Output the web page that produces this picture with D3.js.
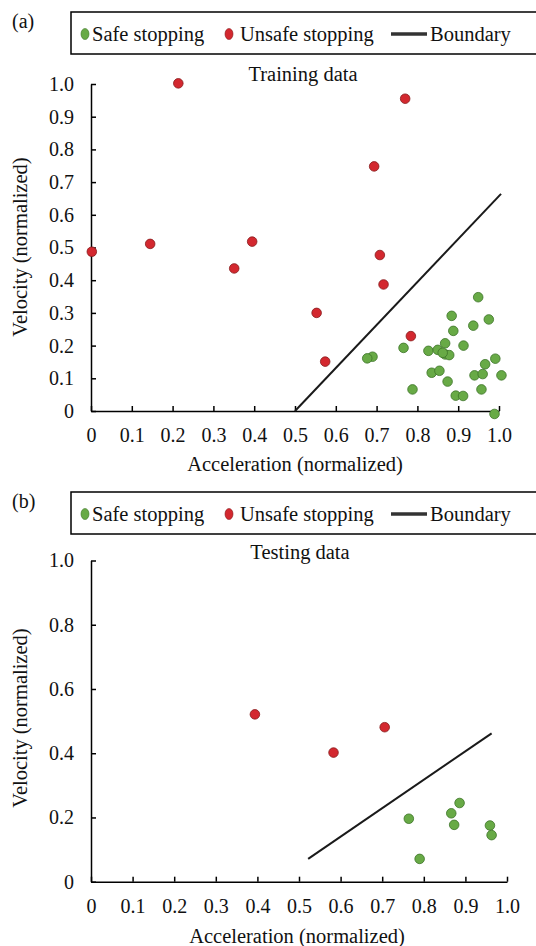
<!DOCTYPE html>
<html lang="en">
<head>
<meta charset="utf-8">
<script src="https://d3js.org/d3.v7.min.js"></script>
<style type="text/css">
body {
	margin: 0;
	background-color: #ffffff;
}
svg text {
	font-family: "Liberation Serif", Tinos, "Times New Roman", Times, "DejaVu Serif", serif !important;
	fill: #111;
}
.axis path, .axis line {
	stroke: #000;
	stroke-width: 1.5;
}
.axis text {
	font-size: 20px;
}
</style>
</head>
<body>
<script type="text/javascript">

// Training data (a)
var trainSafeX = [0.949, 0.884, 0.975, 0.888, 0.937, 0.868, 0.913, 0.766, 0.827, 0.850,
                  0.868, 0.878, 0.862, 0.690, 0.677, 0.991, 0.966, 0.835, 0.854, 0.940,
                  0.960, 1.006, 0.874, 0.788, 0.957, 0.894, 0.912, 0.989];
var trainSafeY = [0.348, 0.291, 0.280, 0.245, 0.261, 0.207, 0.200, 0.193, 0.184, 0.187,
                  0.173, 0.171, 0.178, 0.166, 0.161, 0.160, 0.143, 0.117, 0.123, 0.109,
                  0.113, 0.109, 0.090, 0.066, 0.066, 0.047, 0.046, -0.009];
var trainUnsafeX = [0.002, 0.145, 0.214, 0.351, 0.395, 0.553, 0.574, 0.694, 0.708, 0.717, 0.770, 0.784];
var trainUnsafeY = [0.487, 0.511, 1.002, 0.436, 0.518, 0.300, 0.151, 0.748, 0.477, 0.387, 0.955, 0.229];
var trainBoundaryX = [0.50, 1.005];
var trainBoundaryY = [0.0, 0.664];

// Testing data (b)
var testSafeX = [0.886, 0.866, 0.873, 0.764, 0.790, 0.959, 0.963];
var testSafeY = [0.245, 0.213, 0.177, 0.196, 0.071, 0.175, 0.145];
var testUnsafeX = [0.394, 0.583, 0.706];
var testUnsafeY = [0.521, 0.402, 0.481];
var testBoundaryX = [0.522, 0.963];
var testBoundaryY = [0.071, 0.462];

var xTicks = [0, 0.1, 0.2, 0.3, 0.4, 0.5, 0.6, 0.7, 0.8, 0.9, 1.0];
var yTicksTrain = [0, 0.1, 0.2, 0.3, 0.4, 0.5, 0.6, 0.7, 0.8, 0.9, 1.0];
var yTicksTest = [0, 0.2, 0.4, 0.6, 0.8, 1.0];

var legendLabels = ["Safe stopping", "Unsafe stopping", "Boundary"];

var safeFill = "#68aa46", safeStroke = "#3c7428";
var unsafeFill = "#d3282f", unsafeStroke = "#861a1c";

var serif = '"Liberation Serif", Tinos, "Times New Roman", Times, "DejaVu Serif", serif';

var width = 536, height = 946;

var svg = d3.select("body")
  .append("svg")
  .attr("width", width)
  .attr("height", height)
  .attr("font-family", serif);

function fmt(d) { return d === 0 ? "0" : d3.format(".1f")(d); }

function zip(xs, ys) {
  return xs.map(function(x, i) { return [x, ys[i]]; });
}

function drawPanel(p) {
  var g = svg.append("g");

  var x = d3.scaleLinear().domain([0, 1]).range([p.left, p.right]);
  var y = d3.scaleLinear().domain([0, 1]).range([p.bottom, p.top]);

  // panel letter
  g.append("text")
    .attr("x", 12).attr("y", p.legendTop + 16)
    .style("font-size", "20px")
    .text(p.letter);

  // legend box
  var lg = g.append("g").attr("transform", "translate(71," + p.legendTop + ")");
  lg.append("rect")
    .attr("width", 480).attr("height", 42)
    .style("fill", "none").style("stroke", "#000").style("stroke-width", 1.5);
  lg.append("ellipse").attr("cx", 14).attr("cy", 22).attr("rx", 4).attr("ry", 5.5)
    .style("fill", safeFill).style("stroke", safeStroke).style("stroke-width", 0.6);
  lg.append("text").attr("x", 21).attr("y", 29).style("font-size", "20.5px").text(legendLabels[0]);
  lg.append("ellipse").attr("cx", 158).attr("cy", 22).attr("rx", 4).attr("ry", 5.5)
    .style("fill", unsafeFill).style("stroke", unsafeStroke).style("stroke-width", 0.6);
  lg.append("text").attr("x", 169).attr("y", 29).style("font-size", "20.5px").text(legendLabels[1]);
  lg.append("line").attr("x1", 320).attr("x2", 356).attr("y1", 22).attr("y2", 22)
    .style("stroke", "#333").style("stroke-width", 3.5);
  lg.append("text").attr("x", 359).attr("y", 29).style("font-size", "20.5px").text(legendLabels[2]);

  // title
  g.append("text")
    .attr("x", p.titleX).attr("y", p.titleY)
    .attr("text-anchor", "middle")
    .style("font-size", "20.5px")
    .text(p.title);

  // axes
  var xa = g.append("g")
    .attr("class", "axis")
    .attr("transform", "translate(0," + p.bottom + ")")
    .call(d3.axisBottom(x).tickValues(xTicks).tickFormat(fmt)
      .tickSizeInner(-5).tickSizeOuter(0).tickPadding(17));

  var ya = g.append("g")
    .attr("class", "axis")
    .attr("transform", "translate(" + p.left + ",0)")
    .call(d3.axisLeft(y).tickValues(p.yTicks).tickFormat(fmt)
      .tickSizeInner(-5).tickSizeOuter(0).tickPadding(17));

  xa.attr("font-family", serif).attr("font-size", 20);
  ya.attr("font-family", serif).attr("font-size", 20);
  g.selectAll(".domain").style("stroke-width", 1.5);

  // axis titles
  g.append("text")
    .attr("x", p.xTitleX).attr("y", p.xTitleY)
    .attr("text-anchor", "middle")
    .style("font-size", "20.5px")
    .text("Acceleration (normalized)");

  g.append("text")
    .attr("transform", "translate(27," + p.yTitleY + ") rotate(-90)")
    .attr("text-anchor", "middle")
    .style("font-size", "20.5px")
    .text("Velocity (normalized)");

  // boundary
  var line = d3.line().x(function(d) { return x(d[0]); }).y(function(d) { return y(d[1]); });
  g.append("path")
    .datum(zip(p.boundaryX, p.boundaryY))
    .attr("d", line)
    .style("fill", "none")
    .style("stroke", "#1a1a1a")
    .style("stroke-width", 2);

  // points
  g.selectAll(".unsafe")
    .data(zip(p.unsafeX, p.unsafeY))
    .enter().append("circle")
    .attr("class", "unsafe")
    .attr("cx", function(d) { return x(d[0]); })
    .attr("cy", function(d) { return y(d[1]); })
    .attr("r", 4.8)
    .style("fill", unsafeFill).style("stroke", unsafeStroke).style("stroke-width", 0.8);

  g.selectAll(".safe")
    .data(zip(p.safeX, p.safeY))
    .enter().append("circle")
    .attr("class", "safe")
    .attr("cx", function(d) { return x(d[0]); })
    .attr("cy", function(d) { return y(d[1]); })
    .attr("r", 4.8)
    .style("fill", safeFill).style("stroke", safeStroke).style("stroke-width", 0.8);
}

drawPanel({
  letter: "(a)", legendTop: 12, title: "Training data", titleX: 303, titleY: 81,
  left: 91, right: 499, top: 84, bottom: 411,
  yTicks: yTicksTrain, xTitleX: 295, xTitleY: 471, yTitleY: 247,
  safeX: trainSafeX, safeY: trainSafeY, unsafeX: trainUnsafeX, unsafeY: trainUnsafeY,
  boundaryX: trainBoundaryX, boundaryY: trainBoundaryY
});

drawPanel({
  letter: "(b)", legendTop: 492, title: "Testing data", titleX: 300, titleY: 559,
  left: 91, right: 507, top: 560.5, bottom: 881.7,
  yTicks: yTicksTest, xTitleX: 297, xTitleY: 943, yTitleY: 718,
  safeX: testSafeX, safeY: testSafeY, unsafeX: testUnsafeX, unsafeY: testUnsafeY,
  boundaryX: testBoundaryX, boundaryY: testBoundaryY
});

</script>
</body>
</html>
